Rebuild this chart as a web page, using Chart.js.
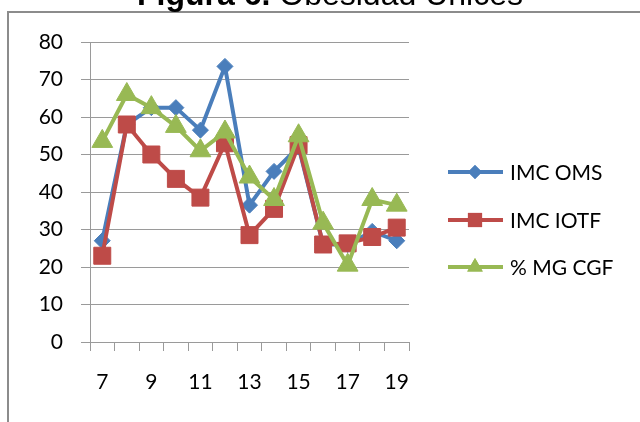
<!DOCTYPE html>
<html>
<head>
<meta charset="utf-8">
<script src="https://cdn.jsdelivr.net/npm/chart.js@4/dist/chart.umd.min.js"></script>
<style>
  html, body { margin: 0; padding: 0; background: #fff; }
  #wrap { width: 640px; height: 422px; position: relative; }
</style>
</head>
<body>
<div id="wrap"><canvas id="chart" width="640" height="422"></canvas></div>
<script>
// datos
const categories = ['7', '8', '9', '10', '11', '12', '13', '14', '15', '16', '17', '18', '19'];
const imcOms  = [27, 58, 62.5, 62.5, 56.5, 73.5, 36.5, 45.5, 52, 26, 26, 29.5, 27];
const imcIotf = [23, 58, 50, 43.5, 38.5, 53, 28.5, 35.5, 52.5, 26, 26.3, 28, 30.5];
const mgCgf   = [53.5, 66, 62.5, 57.5, 51, 56, 44, 38, 55, 31.7, 20.5, 38, 36.5];
const seriesNames = ['IMC OMS', 'IMC IOTF', '% MG CGF'];
const yTicks = [0, 10, 20, 30, 40, 50, 60, 70, 80];

const FONT = 'Lato';
const blue = '#4A7EBB', red = '#BE4B48', green = '#98B954';

// marco, titulo y leyenda dibujados a mano
const extras = {
  id: 'extras',
  afterDraw(chart) {
    const ctx = chart.ctx;
    ctx.save();
    // marco gris
    ctx.strokeStyle = '#8c8c8c';
    ctx.lineWidth = 2;
    ctx.beginPath();
    ctx.moveTo(8, 430);
    ctx.lineTo(8, 12);
    ctx.lineTo(650, 12);
    ctx.stroke();

    // titulo (cortado arriba)
    ctx.fillStyle = '#000';
    ctx.textBaseline = 'alphabetic';
    ctx.font = 'bold 32px "Liberation Sans"';
    const t1 = 'Figura 6.';
    ctx.fillText(t1, 137, 5);
    const w1 = ctx.measureText(t1 + ' ').width;
    ctx.font = '32px "Liberation Sans"';
    ctx.fillText('Obesidad Unices', 137 + w1, 5);

    // leyenda
    const ys = [172, 220, 267];
    chart.data.datasets.forEach((ds, i) => {
      const y = ys[i];
      ctx.strokeStyle = ds.borderColor;
      ctx.lineWidth = 4;
      ctx.beginPath();
      ctx.moveTo(448, y);
      ctx.lineTo(503, y);
      ctx.stroke();
      ctx.fillStyle = ds.borderColor;
      ctx.lineWidth = 1;
      Chart.helpers.drawPoint(ctx, {
        pointStyle: ds.pointStyle,
        radius: ds.legendRadius,
        rotation: 0
      }, 475, y);
      ctx.fill();
      ctx.fillStyle = '#000';
      ctx.font = '21px ' + FONT;
      ctx.textBaseline = 'middle';
      ctx.fillText(ds.label, 510, y + 1);
    });
    ctx.restore();
  }
};

new Chart(document.getElementById('chart'), {
  type: 'line',
  data: {
    labels: categories,
    datasets: [
      {
        label: seriesNames[0], data: imcOms, order: 3,
        borderColor: blue, backgroundColor: blue, borderWidth: 4,
        pointStyle: 'rectRot', pointRadius: 8, pointBorderWidth: 1, legendRadius: 7
      },
      {
        label: seriesNames[1], data: imcIotf, order: 2,
        borderColor: red, backgroundColor: red, borderWidth: 4,
        pointStyle: 'rect', pointRadius: 12, pointBorderWidth: 1, legendRadius: 10
      },
      {
        label: seriesNames[2], data: mgCgf, order: 1,
        borderColor: green, backgroundColor: green, borderWidth: 4,
        pointStyle: 'triangle', pointRadius: 12, pointBorderWidth: 1, legendRadius: 9
      }
    ]
  },
  options: {
    responsive: false,
    animation: false,
    events: [],
    layout: { padding: { left: 0, top: 42, right: 231, bottom: 0 } },
    plugins: {
      legend: { display: false },
      title: { display: false },
      tooltip: { enabled: false }
    },
    elements: { line: { tension: 0 } },
    scales: {
      x: {
        offset: true,
        afterFit(scale) { scale.height = 80; },
        grid: {
          offset: true,
          drawOnChartArea: false,
          drawTicks: true,
          tickLength: 9,
          color: '#9a9a9a'
        },
        border: { color: '#9a9a9a', width: 1 },
        ticks: {
          autoSkip: false,
          maxRotation: 0,
          padding: 19,
          color: '#000',
          font: { family: FONT, size: 21 },
          callback: (v, i) => (i % 2 === 0 ? categories[i] : '')
        }
      },
      y: {
        min: 0,
        max: 80,
        afterFit(scale) { scale.width = 90; },
        afterBuildTicks(scale) { scale.ticks = yTicks.map(v => ({ value: v })); },
        grid: { color: '#9a9a9a', tickLength: 9, drawTicks: true },
        border: { color: '#9a9a9a', width: 1 },
        ticks: {
          padding: 18,
          color: '#000',
          font: { family: FONT, size: 21 }
        }
      }
    }
  },
  plugins: [extras]
});
</script>
</body>
</html>
